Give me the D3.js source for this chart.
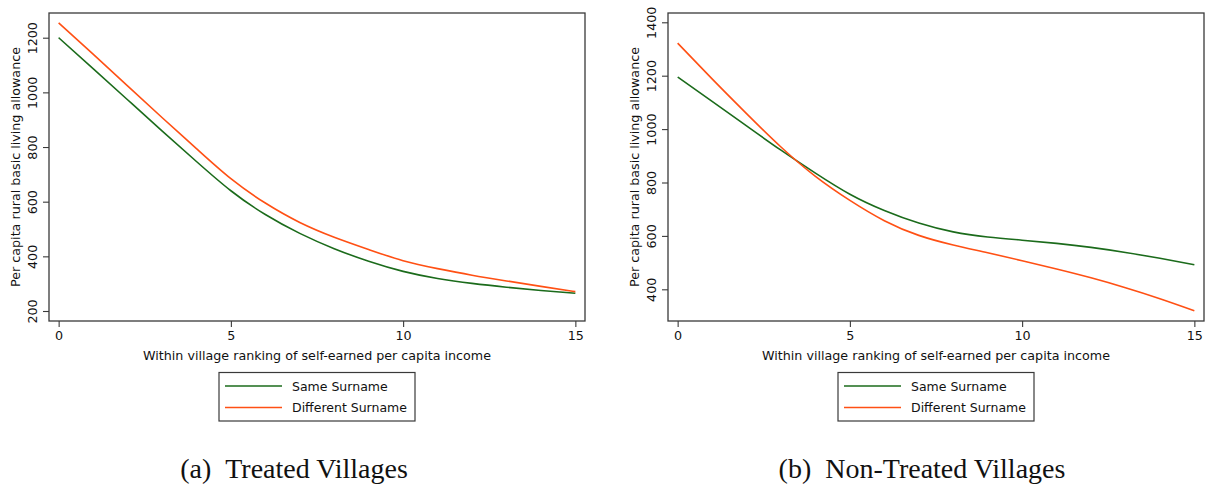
<!DOCTYPE html>
<html><head><meta charset="utf-8">
<script src="https://cdn.jsdelivr.net/npm/d3@7"></script>
<style>
html,body{margin:0;padding:0;background:#fff;}
svg{display:block;}
</style></head>
<body>
<svg id="chart" width="1206" height="487"></svg>
<script>
// ---------- data ----------
const ranks = [0,1,2,3,4,5,6,7,8,9,10,11,12,13,14,15];
const treatedSame = [1200,1087,973,859,747,640,553,484,428,382,345,319,301,287,275,265];
const treatedDiff = [1254,1140,1024,908,794,684,595,524,470,425,384,355,331,310,290,271];
const nonTreatedSame = [1195,1104,1012,921,835,756,695,648,615,596,584,572,557,538,516,492];
const nonTreatedDiff = [1322,1188,1058,933,823,733,657,602,566,537,507,476,443,406,365,320];
const xTicks = [0,5,10,15];
const yTicksTreated = [200,400,600,800,1000,1200];
const yTicksNonTreated = [400,600,800,1000,1200,1400];
const seriesNames = ["Same Surname","Different Surname"];
const captions = ["(a)\u2002Treated Villages","(b)\u2002Non-Treated Villages"];
const xTitle = "Within village ranking of self-earned per capita income";
const yTitle = "Per capita rural basic living allowance";

// ---------- layout ----------
const colors = ["#1b6b1b","#ff5014"];
const FONT = "DejaVu Sans";
const svg = d3.select("#chart");

const panels = [
  {x0:49, x1:585, capX:294, yDomain:[163.4,1290.4], yTicks:yTicksTreated, series:[treatedSame,treatedDiff], caption:captions[0]},
  {x0:668, x1:1204, capX:922, yDomain:[281.3,1434.8], yTicks:yTicksNonTreated, series:[nonTreatedSame,nonTreatedDiff], caption:captions[1]}
];
const plotTop = 13, plotBottom = 321;

panels.forEach(p => {
  const g = svg.append("g");
  const x = d3.scaleLinear().domain([-0.28,15.28]).range([p.x0,p.x1]);
  const y = d3.scaleLinear().domain(p.yDomain).range([plotBottom,plotTop]);

  // lines
  p.series.forEach((vals,i) => {
    const line = d3.line().x((d,j)=>x(ranks[j])).y(d=>y(d)).curve(d3.curveNatural);
    g.append("path").datum(vals).attr("d",line)
      .attr("fill","none").attr("stroke",colors[i]).attr("stroke-width",1.6);
  });

  // frame
  g.append("rect").attr("x",p.x0).attr("y",plotTop).attr("width",p.x1-p.x0).attr("height",plotBottom-plotTop)
    .attr("fill","none").attr("stroke","#3a3a3a").attr("stroke-width",1.3);

  // x axis
  const xa = g.append("g").attr("transform",`translate(0,${plotBottom})`)
    .call(d3.axisBottom(x).tickValues(xTicks).tickSize(6).tickPadding(4).tickFormat(d3.format("d")));
  xa.select(".domain").remove();
  xa.selectAll("line").attr("stroke","#3a3a3a").attr("stroke-width",1.1);
  xa.selectAll("text").attr("font-family",FONT).attr("font-size",12.7).attr("fill","#111");

  // y axis
  const ya = g.append("g").attr("transform",`translate(${p.x0},0)`)
    .call(d3.axisLeft(y).tickValues(p.yTicks).tickSize(6).tickFormat(d3.format("d")));
  ya.select(".domain").remove();
  ya.selectAll("line").attr("stroke","#3a3a3a").attr("stroke-width",1.1);
  ya.selectAll("text").attr("font-family",FONT).attr("font-size",12.7).attr("fill","#111")
    .attr("x",null).attr("dy",null)
    .attr("text-anchor","middle")
    .attr("transform","translate(-12.5,0) rotate(-90)");

  const cx = (p.x0+p.x1)/2;
  // axis titles
  g.append("text").attr("x",cx).attr("y",360).attr("text-anchor","middle")
    .attr("font-family",FONT).attr("font-size",12.7).attr("fill","#111").text(xTitle);
  g.append("text").attr("transform",`translate(${p.x0-29},${(plotTop+plotBottom)/2}) rotate(-90)`)
    .attr("text-anchor","middle").attr("font-family",FONT).attr("font-size",12.7).attr("fill","#111").text(yTitle);

  // legend
  const lw = 196, lx = cx - lw/2, ly = 372.5, lh = 48.5;
  g.append("rect").attr("x",lx).attr("y",ly).attr("width",lw).attr("height",lh)
    .attr("fill","#fff").attr("stroke","#3a3a3a").attr("stroke-width",1.2);
  seriesNames.forEach((name,i) => {
    const yy = ly + 13.5 + i*21.5;
    g.append("line").attr("x1",lx+6).attr("x2",lx+63).attr("y1",yy).attr("y2",yy)
      .attr("stroke",colors[i]).attr("stroke-width",1.6);
    g.append("text").attr("x",lx+73).attr("y",yy+4.5).attr("font-family",FONT).attr("font-size",12.5)
      .attr("fill","#111").text(name);
  });

  // caption
  g.append("text").attr("x",p.capX).attr("y",478).attr("text-anchor","middle")
    .attr("font-family","Liberation Serif").attr("font-size",28).attr("fill","#111").text(p.caption);
});
</script>
</body></html>
